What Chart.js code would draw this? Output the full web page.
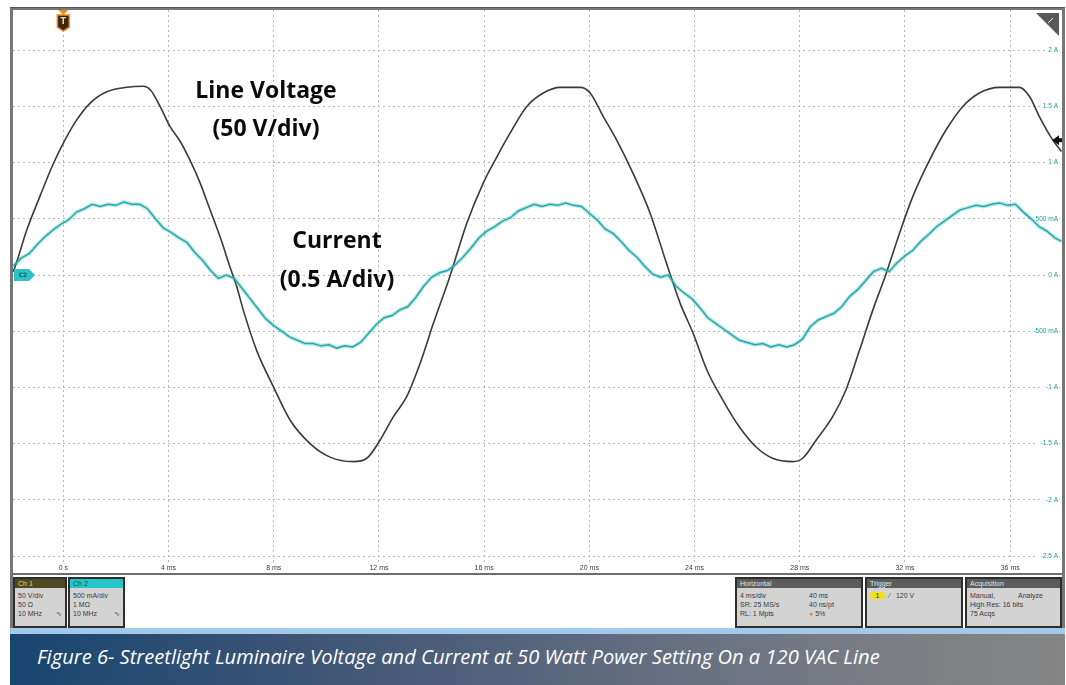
<!DOCTYPE html>
<html>
<head>
<meta charset="utf-8">
<script src="https://cdn.jsdelivr.net/npm/chart.js@4.4.1/dist/chart.umd.min.js"></script>
<style>
  html, body { margin: 0; padding: 0; }
  body { width: 1066px; height: 685px; background: #fff; position: relative; overflow: hidden;
         font-family: "Liberation Sans", Arial, sans-serif; }
  #scope { position: absolute; left: 10px; top: 7px; width: 1055px; height: 621px; background: #777;
           border-top: 1px solid #555; box-sizing: border-box; }
  #screen { position: absolute; left: 13px; top: 10px; width: 1049px; height: 563px; background: #fff; }
  #status { position: absolute; left: 13px; top: 573px; width: 1049px; height: 55px; background: #fff;
            border-top: 2px solid #6d6d6d; box-sizing: border-box; }
  .panel { position: absolute; top: 2px; height: 51px; background: #d3d3d3; border: 2px solid #2e2e2e;
           box-sizing: border-box; font-size: 7px; color: #3a3a3a; }
  .panel .hd { height: 9px; line-height: 9px; padding-left: 3px; background: #5c5c5c; color: #e4e4e4; }
  .panel .bd { padding-top: 3px; }
  .panel .row { height: 9px; line-height: 9px; padding-left: 3px; white-space: nowrap; position: relative; }
  #strip { position: absolute; left: 10px; top: 628px; width: 1055px; height: 6px; background: #a2c8ea; }
  #caption { position: absolute; left: 10px; top: 634px; width: 1055px; height: 51px;
             background: linear-gradient(90deg, #184570 0%, #3f5677 30%, #646d80 60%, #7d7f84 85%, #858585 100%); }
  #caption span { position: absolute; left: 27px; top: 12px; font-family: "Open Sans", sans-serif;
                  font-style: italic; font-size: 20px; line-height: 22px; color: #fff; white-space: nowrap;
                  transform-origin: 0 50%; }
</style>
</head>
<body>
<div id="scope"></div>
<div id="screen"><canvas id="chart-scope"></canvas></div>

<div id="status">
  <div class="panel" style="left:0;width:54px;">
    <div class="hd" style="background:#4e4a24;color:#e6dc58;">Ch 1</div>
    <div class="bd">
      <div class="row">50 V/div</div>
      <div class="row">50 Ω</div>
      <div class="row">10 MHz <span style="position:absolute;right:3px;">∿</span></div>
    </div>
  </div>
  <div class="panel" style="left:55px;width:57px;">
    <div class="hd" style="background:#22c6c8;color:#0c4f50;">Ch 2</div>
    <div class="bd">
      <div class="row">500 mA/div</div>
      <div class="row">1 MΩ</div>
      <div class="row">10 MHz <span style="position:absolute;right:3px;">∿</span></div>
    </div>
  </div>
  <div class="panel" style="left:722px;width:128px;">
    <div class="hd">Horizontal</div>
    <div class="bd">
      <div class="row">4 ms/div<span style="position:absolute;left:72px;">40 ms</span></div>
      <div class="row">SR: 25 MS/s<span style="position:absolute;left:72px;">40 ns/pt</span></div>
      <div class="row">RL: 1 Mpts<span style="position:absolute;left:72px;"><span style="color:#e8842a;">●</span> 5%</span></div>
    </div>
  </div>
  <div class="panel" style="left:852px;width:98px;">
    <div class="hd">Trigger</div>
    <div class="bd">
      <div class="row"><span style="display:inline-block;width:15px;height:7px;line-height:7px;border-radius:3px;background:#efe21a;color:#333;text-align:center;">1</span>&nbsp;&nbsp;⁄&nbsp;&nbsp;&nbsp;120 V</div>
    </div>
  </div>
  <div class="panel" style="left:952px;width:97px;">
    <div class="hd">Acquisition</div>
    <div class="bd">
      <div class="row">Manual,<span style="position:absolute;left:51px;">Analyze</span></div>
      <div class="row">High Res: 16 bits</div>
      <div class="row">75 Acqs</div>
    </div>
  </div>
</div>

<div id="strip"></div>
<div id="caption"><span id="caption-text">Figure 6- Streetlight Luminaire Voltage and Current at 50 Watt Power Setting On a 120 VAC Line</span></div>

<script>
// Canal 1: tension de red (ms, V)
const voltTimeMs = [-1.913, -1.84, -1.39, -0.89, -0.38, 0.06, 0.51, 1.02, 1.65, 2.41, 3.04, 3.3, 3.68,
  4.06, 4.44, 4.82, 5.2, 5.58, 5.96, 6.34, 6.59, 6.84, 7.35, 7.98, 8.62, 9.38, 10.14, 11.03, 11.54,
  12.04, 12.55, 13.06, 13.56, 14.07, 14.7, 15.34, 15.97, 16.48, 16.98, 17.62, 18.25, 18.89, 19.65,
  20.03, 20.53, 21.04, 21.67, 22.31, 22.94, 23.45, 23.95, 24.46, 25.07, 25.7, 26.34, 26.97, 27.73,
  28.11, 28.62, 29.25, 29.76, 30.27, 30.78, 31.28, 31.79, 32.3, 32.93, 33.56, 34.2, 34.83, 35.59,
  36.35, 36.73, 37.11, 37.62, 37.95];
const voltVolts = [3, 7, 40, 70, 99, 120, 138, 153, 163, 167, 168, 165, 150,
  132, 119, 102, 82, 58, 34, 7, -10, -31, -67, -99, -129, -150, -162, -166, -163,
  -147, -126, -108, -79, -43, -1, 46, 82, 105, 126, 150, 162, 167, 167,
  162, 141, 120, 90, 55, 10, -25, -52, -84, -111, -135, -153, -163, -166,
  -163, -147, -126, -102, -67, -31, 1, 37, 70, 102, 129, 150, 162, 167,
  167, 159, 141, 120, 110];

// Canal 2: corriente (ms, A)
const currTimeMs = [-1.9, -1.6, -1.3, -1.0, -0.7, -0.4, -0.1, 0.2, 0.5, 0.8, 1.1, 1.4, 1.7, 2.0, 2.3,
  2.6, 2.9, 3.2, 3.5, 3.8, 4.1, 4.4, 4.7, 5.0, 5.3, 5.6, 5.9, 6.2, 6.5, 6.8, 7.1, 7.4, 7.7, 8.0,
  8.3, 8.6, 8.9, 9.2, 9.5, 9.8, 10.1, 10.4, 10.7, 11.0, 11.3, 11.6, 11.9, 12.2, 12.5, 12.8, 13.1,
  13.4, 13.7, 14.0, 14.3, 14.6, 14.9, 15.2, 15.5, 15.8, 16.1, 16.4, 16.7, 17.0, 17.3, 17.6, 17.9,
  18.2, 18.5, 18.8, 19.1, 19.4, 19.7, 20.0, 20.3, 20.6, 20.9, 21.2, 21.5, 21.8, 22.1, 22.4, 22.7,
  23.0, 23.3, 23.6, 23.9, 24.2, 24.5, 24.8, 25.1, 25.4, 25.7, 26.0, 26.3, 26.6, 26.9, 27.2, 27.5,
  27.8, 28.1, 28.4, 28.7, 29.0, 29.3, 29.6, 29.9, 30.2, 30.5, 30.8, 31.1, 31.4, 31.7, 32.0, 32.3,
  32.6, 32.9, 33.2, 33.5, 33.8, 34.1, 34.4, 34.7, 35.0, 35.3, 35.6, 35.9, 36.2, 36.5, 36.8, 37.1,
  37.4, 37.7, 37.95];
const currAmps = [0.08, 0.15, 0.19, 0.27, 0.34, 0.40, 0.45, 0.49, 0.56, 0.59, 0.63, 0.61, 0.63, 0.62, 0.65,
  0.63, 0.63, 0.59, 0.50, 0.42, 0.38, 0.33, 0.29, 0.20, 0.13, 0.04, -0.03, 0.0, -0.03, -0.12, -0.21, -0.30, -0.39, -0.45,
  -0.50, -0.55, -0.58, -0.61, -0.61, -0.63, -0.62, -0.65, -0.63, -0.64, -0.60, -0.52, -0.44, -0.38, -0.36, -0.31, -0.28,
  -0.20, -0.10, -0.02, 0.02, 0.04, 0.09, 0.16, 0.24, 0.33, 0.39, 0.43, 0.48, 0.51, 0.57, 0.60, 0.63,
  0.61, 0.63, 0.62, 0.64, 0.62, 0.61, 0.55, 0.49, 0.41, 0.37, 0.30, 0.22, 0.16, 0.08, 0.01, -0.02,
  0.0, -0.10, -0.16, -0.21, -0.29, -0.38, -0.43, -0.48, -0.53, -0.58, -0.60, -0.62, -0.61, -0.64, -0.62, -0.64,
  -0.62, -0.57, -0.46, -0.40, -0.37, -0.34, -0.28, -0.19, -0.13, -0.05, 0.03, 0.06, 0.03, 0.11, 0.17, 0.22,
  0.30, 0.36, 0.43, 0.48, 0.53, 0.58, 0.60, 0.62, 0.61, 0.63, 0.64, 0.62, 0.63, 0.56, 0.50, 0.43,
  0.39, 0.33, 0.30];

// Reticula: marcas de tiempo y de corriente
const timeTicksMs = [0, 4, 8, 12, 16, 20, 24, 28, 32, 36];
const timeTickLabels = ['0 s', '4 ms', '8 ms', '12 ms', '16 ms', '20 ms', '24 ms', '28 ms', '32 ms', '36 ms'];
const currTicksA = [2, 1.5, 1, 0.5, 0, -0.5, -1, -1.5, -2, -2.5];
const currTickLabels = ['2 A', '1.5 A', '1 A', '500 mA', '0 A', '-500 mA', '-1 A', '-1.5 A', '-2 A', '-2.5 A'];
const triggerLevelV = 120;

function pairs(xs, ys) {
  return xs.map((x, i) => ({ x: x, y: ys[i] }));
}

// Marcadores del osciloscopio y rotulos
const scopeMarksPlugin = {
  id: 'scopeMarks',
  afterDatasetsDraw(chart) {
    const ctx = chart.ctx;
    const area = chart.chartArea;
    const xs = chart.scales.x;
    const ys = chart.scales.y;
    const yv = chart.scales.yV;
    ctx.save();

    // rotulos
    ctx.fillStyle = '#0a0a0a';
    ctx.font = 'bold 23px "Open Sans", Lato, sans-serif';
    ctx.textAlign = 'center';
    ctx.textBaseline = 'middle';
    ctx.fillText('Line Voltage', 253, 81);
    ctx.fillText('(50 V/div)', 253, 119);
    ctx.fillText('Current', 324, 231);
    ctx.fillText('(0.5 A/div)', 324, 270);

    // marca de disparo T
    const tx = xs.getPixelForValue(0);
    const top = area.top;
    ctx.fillStyle = '#f18a1f';
    ctx.beginPath();
    ctx.moveTo(tx - 5, top);
    ctx.lineTo(tx + 5, top);
    ctx.lineTo(tx, top + 5);
    ctx.closePath();
    ctx.fill();
    ctx.fillStyle = '#3a2715';
    ctx.strokeStyle = '#f18a1f';
    ctx.lineWidth = 1.5;
    ctx.beginPath();
    ctx.moveTo(tx - 6, top + 5);
    ctx.lineTo(tx + 6, top + 5);
    ctx.lineTo(tx + 6, top + 17);
    ctx.lineTo(tx, top + 21);
    ctx.lineTo(tx - 6, top + 17);
    ctx.closePath();
    ctx.fill();
    ctx.stroke();
    ctx.fillStyle = '#f3d2aa';
    ctx.font = 'bold 8px "DejaVu Sans", sans-serif';
    ctx.fillText('T', tx, top + 12);

    // indicador C2
    const cy = ys.getPixelForValue(0);
    const cl = area.left + 1;
    ctx.fillStyle = '#2cc3c6';
    ctx.beginPath();
    ctx.moveTo(cl, cy - 6);
    ctx.lineTo(cl + 15, cy - 6);
    ctx.lineTo(cl + 21, cy);
    ctx.lineTo(cl + 15, cy + 6);
    ctx.lineTo(cl, cy + 6);
    ctx.closePath();
    ctx.fill();
    ctx.fillStyle = '#0d5556';
    ctx.font = 'bold 6px "DejaVu Sans", sans-serif';
    ctx.fillText('C2', cl + 9, cy);

    // nivel de disparo
    const ly = yv.getPixelForValue(triggerLevelV);
    const rx = area.right;
    ctx.fillStyle = '#111';
    ctx.beginPath();
    ctx.moveTo(rx - 10, ly);
    ctx.lineTo(rx - 3, ly - 5);
    ctx.lineTo(rx - 3, ly + 5);
    ctx.closePath();
    ctx.fill();
    ctx.fillRect(rx - 4, ly - 2, 4, 4);

    // esquina superior derecha
    ctx.fillStyle = '#5a5a5a';
    ctx.beginPath();
    ctx.moveTo(rx - 26, top + 3);
    ctx.lineTo(rx - 3, top + 3);
    ctx.lineTo(rx - 3, top + 26);
    ctx.closePath();
    ctx.fill();
    ctx.strokeStyle = '#e8e8e8';
    ctx.lineWidth = 1;
    ctx.beginPath();
    ctx.moveTo(rx - 14, top + 13);
    ctx.lineTo(rx - 9, top + 8);
    ctx.stroke();

    ctx.restore();
  }
};

function renderScope() {
  const canvas = document.getElementById('chart-scope');
  if (!canvas || typeof Chart === 'undefined') return;

  new Chart(canvas, {
    type: 'line',
    data: {
      datasets: [
        {
          label: 'Current halo',
          data: pairs(currTimeMs, currAmps),
          yAxisID: 'y',
          borderColor: 'rgba(40, 176, 176, 0.3)',
          borderWidth: 4,
          pointRadius: 0,
          tension: 0
        },
        {
          label: 'Current',
          data: pairs(currTimeMs, currAmps),
          yAxisID: 'y',
          borderColor: '#1fa8a8',
          borderWidth: 1.5,
          pointRadius: 0,
          tension: 0
        },
        {
          label: 'Line Voltage',
          data: pairs(voltTimeMs, voltVolts),
          yAxisID: 'yV',
          borderColor: '#3a3a3a',
          borderWidth: 1.6,
          pointRadius: 0,
          cubicInterpolationMode: 'monotone'
        }
      ]
    },
    options: {
      responsive: true,
      maintainAspectRatio: false,
      animation: false,
      layout: { padding: 0 },
      plugins: {
        legend: { display: false },
        tooltip: { enabled: false }
      },
      scales: {
        x: {
          type: 'linear',
          min: -1.913,
          max: 37.97,
          afterBuildTicks: (scale) => { scale.ticks = timeTicksMs.map((v) => ({ value: v })); },
          afterFit: (scale) => { scale.height = 10; },
          ticks: {
            padding: 1,
            autoSkip: false,
            maxRotation: 0,
            color: '#3c3c3c',
            font: { size: 7, family: '"Liberation Sans", Arial, sans-serif' },
            callback: (value) => timeTickLabels[timeTicksMs.indexOf(value)]
          },
          grid: { color: '#b9b9b9', lineWidth: 1, drawTicks: false },
          border: { display: false, dash: [2, 3] }
        },
        y: {
          type: 'linear',
          position: 'right',
          min: -2.562,
          max: 2.358,
          afterBuildTicks: (scale) => { scale.ticks = currTicksA.map((v) => ({ value: v })); },
          afterFit: (scale) => { scale.width = 0; },
          ticks: {
            mirror: true,
            padding: -4,
            color: '#1e9c9c',
            showLabelBackdrop: true,
            backdropColor: '#ffffff',
            backdropPadding: { left: 3, right: 1, top: 0, bottom: 0 },
            font: { size: 6.5, family: '"Liberation Sans", Arial, sans-serif' },
            callback: (value) => currTickLabels[currTicksA.indexOf(value)]
          },
          grid: { color: '#b9b9b9', lineWidth: 1, drawTicks: false },
          border: { display: false, dash: [2, 3] }
        },
        yV: {
          type: 'linear',
          display: false,
          min: -256.2,
          max: 235.8
        }
      }
    },
    plugins: [scopeMarksPlugin]
  });
}

function fitCaption() {
  const span = document.getElementById('caption-text');
  if (!span) return;
  const w = span.offsetWidth;
  if (w > 0) span.style.transform = 'scaleX(' + (843 / w).toFixed(3) + ')';
}

renderScope();
fitCaption();
</script>
</body>
</html>
